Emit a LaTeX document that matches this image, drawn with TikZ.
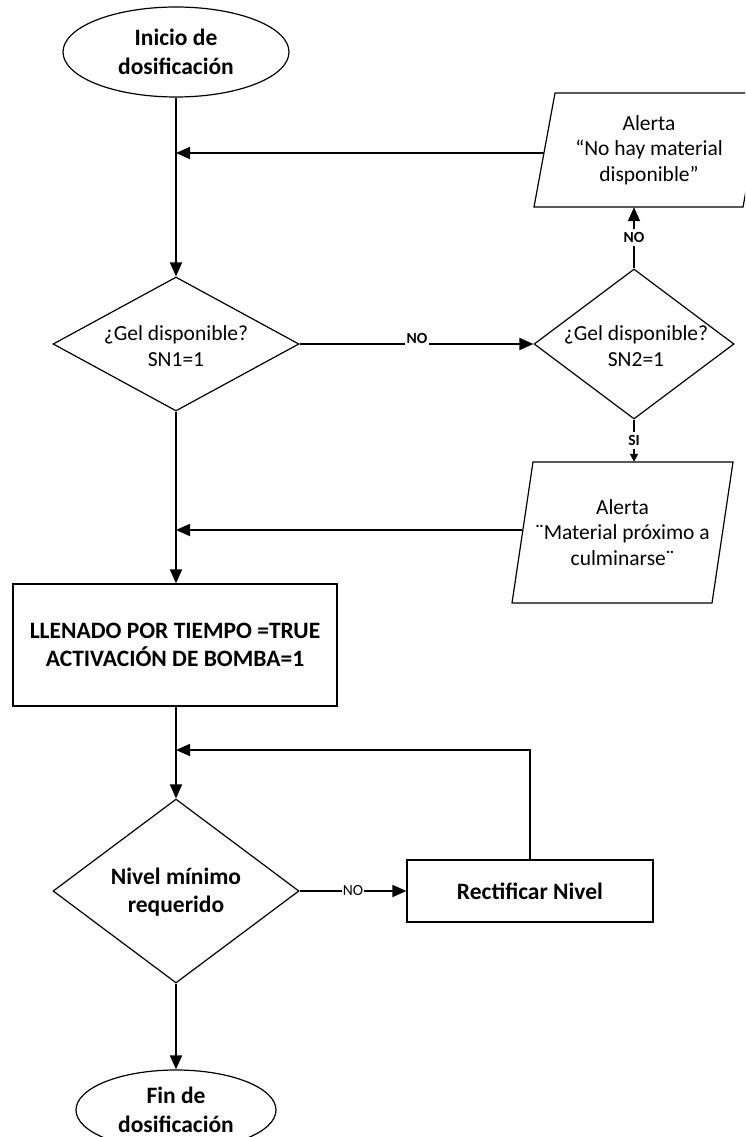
\documentclass[tikz,border=0pt]{standalone}
\usepackage{fontspec}
\setmainfont{Carlito}
\usetikzlibrary{shapes.geometric,arrows.meta}

\tikzset{
  conn/.style={line width=1.8pt},
  arr/.style={conn,-{Triangle[length=14pt,width=12pt]}},
  smallarr/.style={conn,-{Triangle[length=8pt,width=8pt]}},
  outline/.style={draw,line width=1.2pt},
  regtext/.style={font=\fontsize{21.5}{25.5}\selectfont,align=center},
  boldtext/.style={font=\bfseries\fontsize{23.5}{28.5}\selectfont,align=center},
  term/.style={outline,ellipse,inner sep=0pt,boldtext},
  decision/.style={outline,diamond,inner sep=0pt},
  process/.style={outline,rectangle,inner sep=0pt,boldtext},
  iotext/.style={rectangle,inner sep=0pt,regtext},
  lbl/.style={fill=white,inner xsep=1.5pt,inner ysep=3.5pt,font=\bfseries\fontsize{15.5}{18}\selectfont},
  lbllight/.style={fill=white,inner xsep=1pt,inner ysep=3pt,font=\fontsize{15.5}{18}\selectfont},
}

\begin{document}
\begin{tikzpicture}[x=1pt,y=-1pt]
\useasboundingbox (0,0) rectangle (745,1137);
\clip (0,0) rectangle (745,1137);

% main column
\node[term,minimum width=226pt,minimum height=90pt] (start) at (176,52) {Inicio de\\dosificación};
\node[decision,minimum width=246pt,minimum height=134pt] (gel1) at (176,344) {};
\node[regtext] (gel1t) at (176,346) {¿Gel disponible?\\SN1=1};
\node[process,minimum width=324pt,minimum height=122pt] (fill) at (175,645) {LLENADO POR TIEMPO =TRUE\\ACTIVACIÓN DE BOMBA=1};
\node[decision,minimum width=246pt,minimum height=184pt] (level) at (176,891) {};
\node[boldtext] (levelt) at (176,892) {Nivel mínimo\\requerido};
\node[term,minimum width=200pt,minimum height=80pt] (finish) at (176,1110) {Fin de\\dosificación};

% right column
\node[decision,minimum width=200pt,minimum height=150pt] (gel2) at (634,344) {};
\node[regtext] (gel2t) at (636,346) {¿Gel disponible?\\SN2=1};

% input/output parallelograms: outline drawn as a path, text box carries the anchors
\draw[outline] (534,207) -- (555,93) -- (764,93) -- (743,207) -- cycle;
\node[iotext,minimum width=209pt,minimum height=114pt] (alertA) at (649,150)
      {Alerta\\“No hay material\\disponible”};
\draw[outline] (512,603) -- (533,462) -- (733,462) -- (712,603) -- cycle;
\node[iotext,minimum width=200pt,minimum height=141pt] (alertB) at (622.5,532.5)
      {Alerta\\¨Material próximo a\\culminarse¨};
\node[process,minimum width=246pt,minimum height=62pt] (fix) at (530,891) {Rectificar Nivel};

\coordinate (loop) at (176,750);

% connectors
\draw[arr] (start.south) -- (gel1.north);
\draw[arr] ([yshift=-3pt]alertA.west) -- ([yshift=-3pt]alertA.west -| start.south);
\draw[arr] (gel1.east) -- (gel2.west);
\node[lbl] (no1) at (417,338) {NO};
\draw[arr] (gel2.north) -- (gel2.north |- alertA.south) node[lbl,midway] (no2) {NO};
\draw[smallarr] (gel2.south) -- (gel2.south |- alertB.north) node[lbl,midway] (si) {SI};
\draw[arr] ([yshift=2.5pt]alertB.west) -- ([yshift=2.5pt]alertB.west -| gel1.south);
\draw[arr] (gel1.south) -- (fill.north -| gel1.south);
\draw[arr] (fill.south -| level.north) -- (level.north);
\draw[arr] (level.east) -- (fix.west) node[lbllight,midway] (no3) {NO};
\draw[arr] (fix.north) |- (loop);
\draw[arr] (level.south) -- (finish.north);
\end{tikzpicture}
\end{document}
